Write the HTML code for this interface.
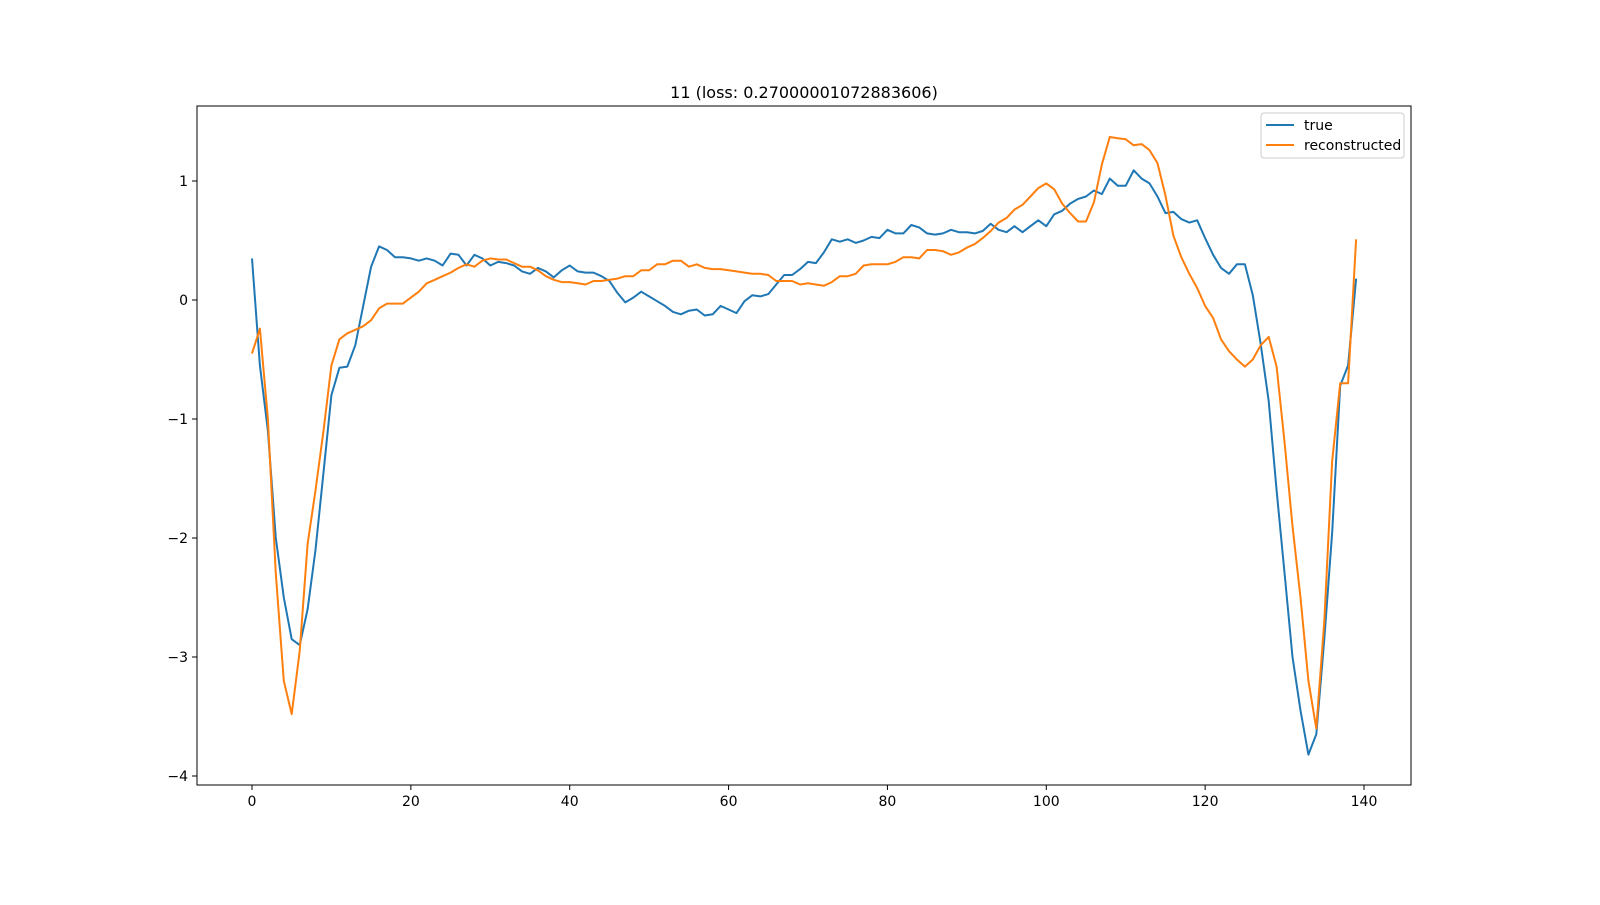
<!DOCTYPE html>
<html><head><meta charset="utf-8"><style>
body{margin:0;background:#fff;}
svg text{font-family:"DejaVu Sans","Liberation Sans",sans-serif;fill:#000;}
</style></head><body>
<svg id="chart" width="1600" height="900" viewBox="0 0 1600 900" xmlns="http://www.w3.org/2000/svg">
<rect width="1600" height="900" fill="#fff"/>
<text x="804" y="98" text-anchor="middle" font-size="16">11 (loss: 0.27000001072883606)</text>
<g id="grid"></g>
<g id="series"></g>
<rect x="197" y="106" width="1214" height="679" fill="none" stroke="#000" stroke-width="1"/>
<g id="xticks"></g><g id="yticks"></g>
<g>
<rect x="1261" y="113" width="143" height="45" rx="3" fill="#fff" stroke="#ccc" stroke-width="1"/>
<line x1="1266" y1="125" x2="1294" y2="125" stroke="#1f77b4" stroke-width="2"/>
<text x="1304" y="130" font-size="14">true</text>
<line x1="1266" y1="145" x2="1294" y2="145" stroke="#ff7f0e" stroke-width="2"/>
<text x="1304" y="150" font-size="14">reconstructed</text>
</g>
</svg>
<script>
const trueValues=[0.35,-0.55,-1.1,-2.0,-2.5,-2.85,-2.9,-2.6,-2.1,-1.45,-0.8,-0.57,-0.56,-0.38,-0.05,0.28,0.45,0.42,0.36,0.36,0.35,0.33,0.35,0.33,0.29,0.39,0.38,0.29,0.38,0.35,0.29,0.32,0.31,0.29,0.24,0.22,0.27,0.24,0.19,0.25,0.29,0.24,0.23,0.23,0.2,0.16,0.06,-0.02,0.02,0.07,0.03,-0.01,-0.05,-0.1,-0.12,-0.09,-0.08,-0.13,-0.12,-0.05,-0.08,-0.11,-0.01,0.04,0.03,0.05,0.13,0.21,0.21,0.26,0.32,0.31,0.4,0.51,0.49,0.51,0.48,0.5,0.53,0.52,0.59,0.56,0.56,0.63,0.61,0.56,0.55,0.56,0.59,0.57,0.57,0.56,0.58,0.64,0.59,0.57,0.62,0.57,0.62,0.67,0.62,0.72,0.75,0.81,0.85,0.87,0.92,0.89,1.02,0.96,0.96,1.09,1.02,0.98,0.87,0.73,0.74,0.68,0.65,0.67,0.52,0.38,0.27,0.22,0.3,0.3,0.04,-0.37,-0.85,-1.6,-2.3,-3.0,-3.45,-3.82,-3.65,-2.85,-1.95,-0.72,-0.55,0.18];
const reconValues=[-0.45,-0.24,-1.0,-2.3,-3.2,-3.48,-2.95,-2.05,-1.6,-1.1,-0.55,-0.33,-0.28,-0.25,-0.22,-0.17,-0.07,-0.03,-0.03,-0.03,0.02,0.07,0.14,0.17,0.2,0.23,0.27,0.3,0.28,0.33,0.35,0.34,0.34,0.31,0.28,0.28,0.25,0.2,0.17,0.15,0.15,0.14,0.13,0.16,0.16,0.17,0.18,0.2,0.2,0.25,0.25,0.3,0.3,0.33,0.33,0.28,0.3,0.27,0.26,0.26,0.25,0.24,0.23,0.22,0.22,0.21,0.16,0.16,0.16,0.13,0.14,0.13,0.12,0.15,0.2,0.2,0.22,0.29,0.3,0.3,0.3,0.32,0.36,0.36,0.35,0.42,0.42,0.41,0.38,0.4,0.44,0.47,0.52,0.58,0.65,0.69,0.76,0.8,0.87,0.94,0.98,0.93,0.81,0.73,0.66,0.66,0.82,1.14,1.37,1.36,1.35,1.3,1.31,1.26,1.15,0.88,0.54,0.36,0.22,0.1,-0.05,-0.15,-0.33,-0.43,-0.5,-0.56,-0.5,-0.38,-0.31,-0.56,-1.2,-1.9,-2.5,-3.2,-3.6,-2.7,-1.35,-0.7,-0.7,0.51];
const xTickLabels=[0,20,40,60,80,100,120,140];
const yTickLabels=[-4,-3,-2,-1,0,1];
const NS="http://www.w3.org/2000/svg";
function xScale(v){return 252+v*(1364-252)/140;}
function yScale(v){return 300-v*119;}
function mk(tag,attrs,parent){const e=document.createElementNS(NS,tag);for(const k in attrs)e.setAttribute(k,attrs[k]);parent.appendChild(e);return e;}
const xt=document.getElementById('xticks');
xTickLabels.forEach(t=>{const x=xScale(t);
 const l=mk('line',{x1:x,x2:x,y1:785,y2:790,stroke:'#000','stroke-width':1},xt);
 
 
 const tx=mk('text',{x:x,y:806,'text-anchor':'middle','font-size':14},xt);
 
 
 tx.textContent=String(t);});
const yt=document.getElementById('yticks');
yTickLabels.forEach(t=>{const y=yScale(t);
 const l=mk('line',{x1:192,x2:197,y1:y,y2:y,stroke:'#000','stroke-width':1},yt);
 
 
 const tx=mk('text',{x:188,y:y+5,'text-anchor':'end','font-size':14},yt);
 
 
 tx.textContent=(t<0?'\u2212'+Math.abs(t):String(t));});
const sg=document.getElementById('series');
function drawLine(vals,color,name){
 const pts=vals.map((v,i)=>xScale(i).toFixed(1)+','+yScale(v).toFixed(1)).join(' ');
 const p=mk('polyline',{points:pts,fill:'none',stroke:color,'stroke-width':2,'stroke-linejoin':'round'},sg);
 
 }
drawLine(trueValues,'#1f77b4','true-line');
drawLine(reconValues,'#ff7f0e','reconstructed-line');
</script>
</body></html>
